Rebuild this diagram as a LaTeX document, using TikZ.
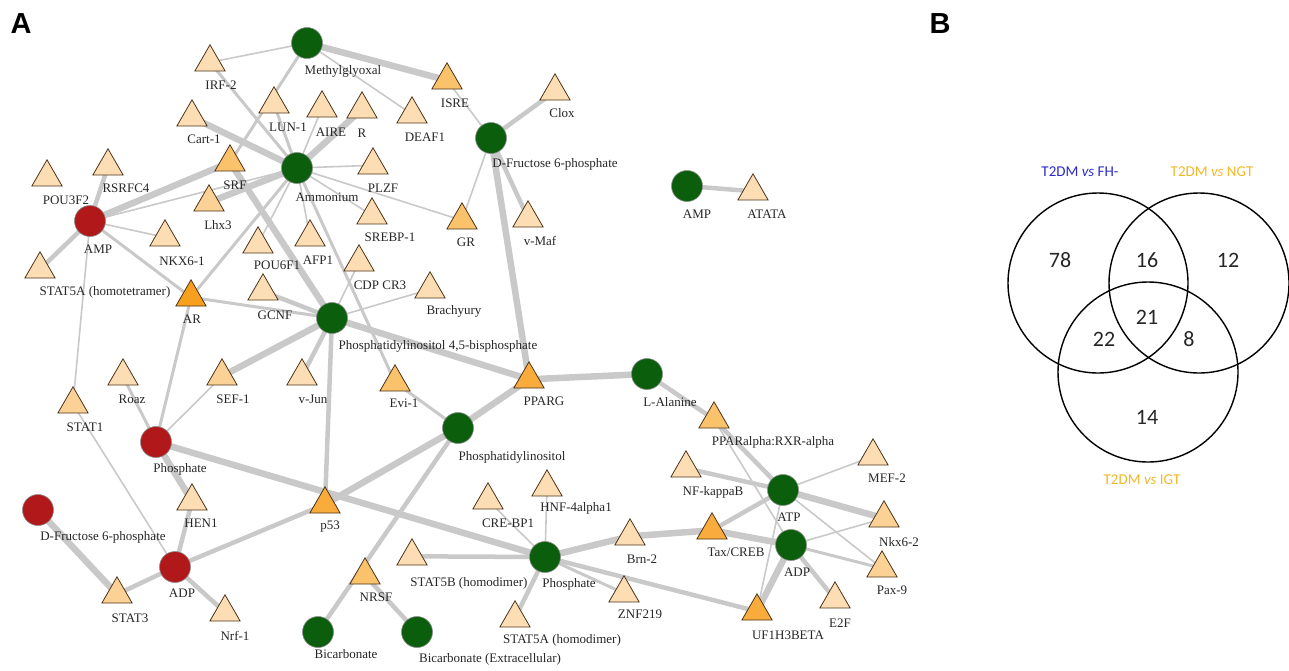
\documentclass[tikz,border=0pt]{standalone}
\usepackage{fontspec}
\setmainfont{Liberation Serif}
\newfontfamily\vennfont{Carlito}
\newfontfamily\panelfont{Liberation Sans}
\usetikzlibrary{shapes.geometric,backgrounds}
\definecolor{gfill}{HTML}{0B5E0B}
\definecolor{rfill}{HTML}{B0181A}
\definecolor{tlight}{HTML}{FDDEB4}
\definecolor{tlm}{HTML}{FCD196}
\definecolor{tmed}{HTML}{FBC26C}
\definecolor{tor}{HTML}{F9AC3C}
\definecolor{tdark}{HTML}{F7A01E}
\definecolor{edgec}{HTML}{C9C9C9}
\definecolor{vblue}{HTML}{2A2ACF}
\definecolor{vyel}{HTML}{F2B72A}
\tikzset{
  met/.style={circle, minimum size=31pt, inner sep=0pt, draw=black!45, line width=0.6pt},
  gm/.style={met, fill=gfill},
  rm/.style={met, fill=rfill},
  tri/.style={regular polygon, regular polygon sides=3, minimum size=35pt, inner sep=0pt,
     draw=black!60!brown, line width=0.8pt, yshift=-4.3pt},
  tl/.style={tri, fill=tlight},
  tlmid/.style={tri, fill=tlm},
  tm/.style={tri, fill=tmed},
  to/.style={tri, fill=tor},
  td/.style={tri, fill=tdark},
  lbl/.style={font=\fontsize{13}{15}\selectfont, inner sep=0pt, text=black!85},
  ed/.style={draw=edgec, line cap=round},
  eth/.style={ed, line width=1.6pt},
  emd/.style={ed, line width=3pt},
  emt/.style={ed, line width=4.5pt},
  etk/.style={ed, line width=6.5pt},
  vc/.style={draw=black, line width=1.4pt, circle, minimum size=180pt, inner sep=0pt},
  vnum/.style={font=\vennfont\fontsize{22}{24}\selectfont, inner sep=0pt, text=black!85},
  vlab/.style={font=\vennfont\fontsize{15}{17}\selectfont, inner sep=0pt},
  panel/.style={font=\panelfont\bfseries\fontsize{29}{30}\selectfont, inner sep=0pt}
}
\begin{document}
\begin{tikzpicture}[x=1pt,y=-1pt]
\useasboundingbox (0,0) rectangle (1289,670);
% panel letters
\node[panel] (pA) at (21,24) {A};
\node[panel] (pB) at (940,24) {B};
% circles (metabolites)
\node[gm] (mgly) at (307,43) {};
\node[gm] (amm) at (297,168) {};
\node[gm] (dfg) at (491,138) {};
\node[gm] (ampg) at (687,186) {};
\node[rm] (ampr) at (90,221) {};
\node[gm] (pip2) at (332,318) {};
\node[gm] (lala) at (647,374) {};
\node[gm] (pi) at (458,428) {};
\node[rm] (phr) at (156,442) {};
\node[rm] (dfr) at (38,510) {};
\node[rm] (adpr) at (175,567) {};
\node[gm] (phg) at (545,557) {};
\node[gm] (atp) at (783,490) {};
\node[gm] (adpg) at (791,545) {};
\node[gm] (bic) at (318,632) {};
\node[gm] (bicx) at (417,632) {};
% triangles (transcription factors)
\node[tl] (irf2) at (210,58) {};
\node[tl] (cart1) at (192,113) {};
\node[tl] (lun1) at (274,100) {};
\node[tm] (srf) at (230,158) {};
\node[tl] (pou3f2) at (47,173) {};
\node[tl] (rsrfc4) at (108,162) {};
\node[tlmid] (lhx3) at (209,198) {};
\node[tl] (aire) at (322,104) {};
\node[tl] (r) at (362,105) {};
\node[tl] (deaf1) at (412,110) {};
\node[tm] (isre) at (447,76) {};
\node[tl] (clox) at (555,87) {};
\node[tl] (plzf) at (373,161) {};
\node[tm] (gr) at (462,216) {};
\node[tl] (vmaf) at (528,214) {};
\node[tl] (srebp1) at (372,211) {};
\node[tl] (afp1) at (310,233) {};
\node[tl] (pou6f1) at (258,240) {};
\node[tl] (nkx61) at (165,233) {};
\node[tl] (cdpcr3) at (359,258) {};
\node[tl] (gcnf) at (263,287) {};
\node[td] (ar) at (191,293) {};
\node[tl] (brach) at (430,285) {};
\node[tl] (stat5a4) at (40,265) {};
\node[tlmid] (stat1) at (73,400) {};
\node[tl] (roaz) at (123,372) {};
\node[tlmid] (sef1) at (222,372) {};
\node[tl] (vjun) at (302,372) {};
\node[tm] (evi1) at (395,378) {};
\node[to] (pparg) at (529,375) {};
\node[to] (p53) at (325,500) {};
\node[tl] (hen1) at (192,497) {};
\node[tlmid] (stat3) at (117,590) {};
\node[tl] (nrf1) at (225,608) {};
\node[tl] (crebp1) at (488,496) {};
\node[tl] (hnf4) at (547,483) {};
\node[tl] (stat5b) at (412,552) {};
\node[tm] (nrsf) at (365,571) {};
\node[tl] (stat5a2) at (515,614) {};
\node[tl] (brn2) at (630,532) {};
\node[tl] (znf) at (624,589) {};
\node[tm] (ppara) at (714,415) {};
\node[tl] (nfkb) at (686,464) {};
\node[tl] (mef2) at (873,452) {};
\node[to] (tax) at (712,526) {};
\node[tlmid] (nkx62) at (884,514) {};
\node[tlmid] (pax9) at (882,564) {};
\node[tl] (e2f) at (835,595) {};
\node[to] (uf1) at (757,607) {};
\node[tl] (atata) at (753,187) {};
% edges
\begin{scope}[on background layer]
\foreach \a/\b in {irf2/mgly, mgly/deaf1, aire/amm, plzf/amm, srebp1/amm, gr/amm, ampr/amm,
   ampr/nkx61, ampr/stat1, isre/dfg, gr/dfg, afp1/amm, pou6f1/amm, cdpcr3/pip2, brach/pip2,
   sef1/phr, stat1/adpr, crebp1/phg, hnf4/phg, atp/mef2, atp/pax9, atp/uf1, adpg/nkx62, ppara/adpg}
  \draw[eth] (\a.center) -- (\b.center);
\foreach \a/\b in {irf2/amm, lun1/amm, mgly/srf, ampr/ar, ar/amm, ar/pip2, roaz/phr, ar/phr,
   adpg/pax9, evi1/amm, evi1/pi, znf/phg}
  \draw[emd] (\a.center) -- (\b.center);
\foreach \a/\b in {rsrfc4/ampr, dfg/clox, dfg/vmaf, gcnf/pip2, vjun/pip2, hen1/adpr,
   stat3/adpr, adpr/nrf1, adpr/p53, pip2/p53, pi/bic, nrsf/bicx, stat5a2/phg, stat5b/phg, phg/uf1,
   lala/ppara, ppara/atp, nfkb/atp, tax/atp, adpg/e2f, ampg/atata, ampr/stat5a4}
  \draw[emt] (\a.center) -- (\b.center);
\foreach \a/\b in {mgly/isre, cart1/amm, r/amm, lhx3/amm, srf/ampr, srf/pip2, sef1/pip2, dfg/pparg,
   pip2/pparg, pi/pparg, pparg/lala, pi/p53, phr/phg, phr/hen1, dfr/stat3, phg/brn2, brn2/tax,
   tax/adpg, atp/nkx62, adpg/uf1}
  \draw[etk] (\a.center) -- (\b.center);
\end{scope}
% labels
\node[lbl] (l-mgly) at (343,71) {Methylglyoxal};
\node[lbl] (l-amm) at (327,197) {Ammonium};
\node[lbl] (l-dfg) at (555,164) {D-Fructose 6-phosphate};
\node[lbl] (l-ampg) at (697,214) {AMP};
\node[lbl] (l-ampr) at (98,249) {AMP};
\node[lbl] (l-pip2) at (438,346) {Phosphatidylinositol 4,5-bisphosphate};
\node[lbl] (l-lala) at (670,402) {L-Alanine};
\node[lbl] (l-pi) at (512,457) {Phosphatidylinositol};
\node[lbl] (l-phr) at (180,469) {Phosphate};
\node[lbl] (l-dfr) at (103,537) {D-Fructose 6-phosphate};
\node[lbl] (l-adpr) at (182,593) {ADP};
\node[lbl] (l-phg) at (569,584) {Phosphate};
\node[lbl] (l-atp) at (789,517) {ATP};
\node[lbl] (l-adpg) at (797,572) {ADP};
\node[lbl] (l-bic) at (346,654) {Bicarbonate};
\node[lbl] (l-bicx) at (490,659) {Bicarbonate (Extracellular)};
\node[lbl] (l-irf2) at (221,85) {IRF-2};
\node[lbl] (l-cart1) at (204,139) {Cart-1};
\node[lbl] (l-lun1) at (288,127) {LUN-1};
\node[lbl] (l-srf) at (235,185) {SRF};
\node[lbl] (l-pou3f2) at (66,200) {POU3F2};
\node[lbl] (l-rsrfc4) at (126,188) {RSRFC4};
\node[lbl] (l-lhx3) at (218,225) {Lhx3};
\node[lbl] (l-aire) at (331,132) {AIRE};
\node[lbl] (l-r) at (362,133) {R};
\node[lbl] (l-deaf1) at (425,137) {DEAF1};
\node[lbl] (l-isre) at (455,103) {ISRE};
\node[lbl] (l-clox) at (562,113) {Clox};
\node[lbl] (l-plzf) at (383,188) {PLZF};
\node[lbl] (l-gr) at (466,242) {GR};
\node[lbl] (l-vmaf) at (540,241) {v-Maf};
\node[lbl] (l-srebp1) at (390,237) {SREBP-1};
\node[lbl] (l-afp1) at (318,260) {AFP1};
\node[lbl] (l-pou6f1) at (277,265) {POU6F1};
\node[lbl] (l-nkx61) at (182,261) {NKX6-1};
\node[lbl] (l-cdpcr3) at (380,285) {CDP CR3};
\node[lbl] (l-gcnf) at (275,315) {GCNF};
\node[lbl] (l-ar) at (192,319) {AR};
\node[lbl] (l-brach) at (454,311) {Brachyury};
\node[lbl] (l-stat5a4) at (105,292) {STAT5A (homotetramer)};
\node[lbl] (l-stat1) at (85,427) {STAT1};
\node[lbl] (l-roaz) at (132,399) {Roaz};
\node[lbl] (l-sef1) at (233,399) {SEF-1};
\node[lbl] (l-vjun) at (313,399) {v-Jun};
\node[lbl] (l-evi1) at (404,403) {Evi-1};
\node[lbl] (l-pparg) at (544,401) {PPARG};
\node[lbl] (l-p53) at (330,527) {p53};
\node[lbl] (l-hen1) at (201,523) {HEN1};
\node[lbl] (l-stat3) at (130,618) {STAT3};
\node[lbl] (l-nrf1) at (235,636) {Nrf-1};
\node[lbl] (l-crebp1) at (508,523) {CRE-BP1};
\node[lbl] (l-hnf4) at (576,508) {HNF-4alpha1};
\node[lbl] (l-stat5b) at (469,583) {STAT5B (homodimer)};
\node[lbl] (l-nrsf) at (376,597) {NRSF};
\node[lbl] (l-stat5a2) at (562,640) {STAT5A (homodimer)};
\node[lbl] (l-brn2) at (642,559) {Brn-2};
\node[lbl] (l-znf) at (640,614) {ZNF219};
\node[lbl] (l-ppara) at (773,442) {PPARalpha:RXR-alpha};
\node[lbl] (l-nfkb) at (713,492) {NF-kappaB};
\node[lbl] (l-mef2) at (887,478) {MEF-2};
\node[lbl] (l-tax) at (736,552) {Tax/CREB};
\node[lbl] (l-nkx62) at (899,542) {Nkx6-2};
\node[lbl] (l-pax9) at (892,590) {Pax-9};
\node[lbl] (l-e2f) at (840,623) {E2F};
\node[lbl] (l-uf1) at (788,635) {UF1H3BETA};
\node[lbl] (l-atata) at (767,214) {ATATA};
% Venn diagram
\node[vc] (c1) at (1098,283) {};
\node[vc] (c2) at (1199,283) {};
\node[vc] (c3) at (1148,372) {};
\node[vnum] (n78) at (1060,260) {78};
\node[vnum] (n16) at (1147,260) {16};
\node[vnum] (n12) at (1228,260) {12};
\node[vnum] (n21) at (1147,317) {21};
\node[vnum] (n22) at (1104,339) {22};
\node[vnum] (n8) at (1189,339) {8};
\node[vnum] (n14) at (1147,417) {14};
\node[vlab, text=vblue] (v1) at (1080,172) {T2DM \textit{vs} FH-};
\node[vlab, text=vyel] (v2) at (1212,172) {T2DM \textit{vs} NGT};
\node[vlab, text=vyel] (v3) at (1142,480) {T2DM \textit{vs} IGT};
\end{tikzpicture}
\end{document}
